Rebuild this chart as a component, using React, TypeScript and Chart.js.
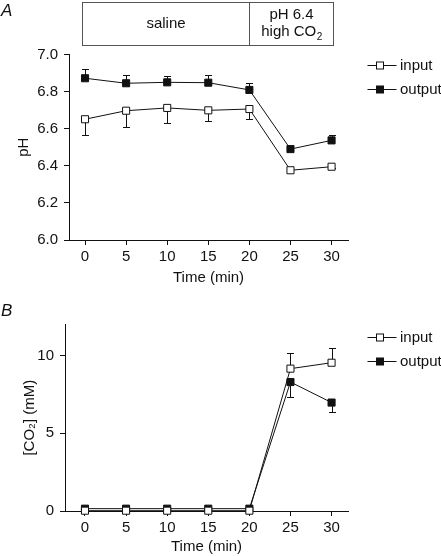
import React, { useEffect, useRef } from "react";
import { Chart, registerables } from "chart.js";

Chart.register(...registerables);

// ---------- data ----------
const timeMin = [0, 5, 10, 15, 20, 25, 30];
const xTickValues = [0, 5, 10, 15, 20, 25, 30];

// Panel A (pH)
const phInput = [6.651, 6.697, 6.712, 6.699, 6.706, 6.376, 6.395];
const phInputErrLow = [6.564, 6.611, 6.631, 6.641, 6.652, null, 6.386];
const phOutput = [6.872, 6.845, 6.85, 6.848, 6.809, 6.49, 6.537];
const phOutputErrHigh = [6.92, 6.89, 6.884, 6.89, 6.845, null, 6.566];
const phYTicks = [6.0, 6.2, 6.4, 6.6, 6.8, 7.0];

// Panel B ([CO2] mM)
const co2Input = [0.02, 0.02, 0.02, 0.02, 0.02, 9.15, 9.53];
const co2InputErrHigh = [null, null, null, null, null, 10.15, 10.49];
const co2Output = [0.15, 0.15, 0.15, 0.15, 0.15, 8.29, 6.97];
const co2OutputErrLow = [null, null, null, null, null, 7.33, 6.39];
const co2YTicks = [0, 5, 10];

const seriesNames = ["input", "output"];

// ---------- styling ----------
const FONT = "'Liberation Sans', Arial, Helvetica, sans-serif";
const INK = "#111111";
const BOX = "#555555";

const toPts = (ys: number[]) => timeMin.map((t, i) => ({ x: t, y: ys[i] }));

const errorBarsPlugin = {
  id: "errorBars",
  beforeDatasetsDraw(chart: any, _args: any, opts: any) {
    const ends: (number | null)[][] = opts.ends || [];
    const ctx = chart.ctx;
    const yScale = chart.scales.y;
    ctx.save();
    ctx.strokeStyle = INK;
    ctx.lineWidth = 1;
    ends.forEach((arr, di) => {
      const meta = chart.getDatasetMeta(di);
      arr.forEach((v, j) => {
        if (v === null || v === undefined) return;
        const el = meta.data[j];
        if (!el) return;
        const x = Math.round(el.x) + 0.5;
        const yEnd = Math.round(yScale.getPixelForValue(v)) + 0.5;
        ctx.beginPath();
        ctx.moveTo(x, el.y);
        ctx.lineTo(x, yEnd);
        ctx.moveTo(x - 3.5, yEnd);
        ctx.lineTo(x + 3.5, yEnd);
        ctx.stroke();
      });
    });
    ctx.restore();
  },
};

function drawSub(ctx: CanvasRenderingContext2D, main: string, sub: string, cx: number, cy: number, size: number) {
  ctx.font = `${size}px ${FONT}`;
  const w1 = ctx.measureText(main).width;
  ctx.font = `${Math.round(size * 0.68)}px ${FONT}`;
  const w2 = ctx.measureText(sub).width;
  const start = cx - (w1 + w2) / 2;
  ctx.textAlign = "left";
  ctx.textBaseline = "middle";
  ctx.font = `${size}px ${FONT}`;
  ctx.fillText(main, start, cy);
  ctx.font = `${Math.round(size * 0.68)}px ${FONT}`;
  ctx.fillText(sub, start + w1 + 0.5, cy + size * 0.33);
}

const decorPlugin = {
  id: "decor",
  afterDraw(chart: any, _args: any, opts: any) {
    const ctx: CanvasRenderingContext2D = chart.ctx;
    const area = chart.chartArea;
    const xs = chart.scales.x;
    ctx.save();
    // panel letter
    ctx.fillStyle = INK;
    ctx.font = `italic 17px ${FONT}`;
    ctx.textAlign = "left";
    ctx.textBaseline = "alphabetic";
    ctx.fillText(opts.letter, 1, opts.letterBaseline);

    // legend
    const lx0 = area.right + 19.5;
    const lx1 = area.right + 48.5;
    const mx = area.right + 32;
    opts.legendRows.forEach((ry: number, i: number) => {
      const y = Math.round(ry) + 0.5;
      ctx.strokeStyle = INK;
      ctx.lineWidth = 1;
      ctx.beginPath();
      ctx.moveTo(lx0, y);
      ctx.lineTo(lx1, y);
      ctx.stroke();
      ctx.fillStyle = i === 0 ? "#ffffff" : INK;
      ctx.fillRect(mx - 3.5, y - 3.5, 7, 7);
      ctx.strokeRect(mx - 3.5, y - 3.5, 7, 7);
      ctx.fillStyle = INK;
      ctx.font = `15px ${FONT}`;
      ctx.textBaseline = "middle";
      ctx.fillText(seriesNames[i], area.right + 52, y);
    });

    // condition box
    if (opts.box) {
      const left = Math.round(xs.getPixelForValue(0)) - 2.5;
      const right = Math.round(xs.getPixelForValue(30)) + 1.5;
      const mid = Math.round(xs.getPixelForValue(20)) + 0.5;
      const top = 2.5;
      const bottom = 45.5;
      ctx.strokeStyle = BOX;
      ctx.lineWidth = 1;
      ctx.strokeRect(left, top, right - left, bottom - top);
      ctx.beginPath();
      ctx.moveTo(mid, top);
      ctx.lineTo(mid, bottom);
      ctx.stroke();
      ctx.fillStyle = INK;
      ctx.font = `15px ${FONT}`;
      ctx.textAlign = "center";
      ctx.textBaseline = "middle";
      ctx.fillText("saline", (left + mid) / 2, 24);
      ctx.fillText("pH 6.4", (mid + right) / 2, 15);
      drawSub(ctx, "high CO", "2", (mid + right) / 2, 32, 15);
    }
    ctx.restore();
  },
};

function makeConfig(p: {
  input: number[];
  output: number[];
  ends: (number | null)[][];
  yMin: number;
  yMax: number;
  yTicks: number[];
  yFmt: (v: number) => string;
  yTitle: string;
  yTitlePad: number;
  xMin: number;
  yWidth: number;
  xHeight: number;
  padTop: number;
  titleBottomPad: number;
  letter: string;
  letterBaseline: number;
  legendRows: number[];
  box: boolean;
}): any {
  const lineDs = (label: string, data: number[], filled: boolean) => ({
    label,
    data: toPts(data),
    borderColor: INK,
    borderWidth: 1,
    pointStyle: "rect",
    pointRadius: 5,
    pointBorderWidth: 1,
    pointBorderColor: INK,
    pointBackgroundColor: filled ? INK : "#ffffff",
    tension: 0,
    fill: false,
    clip: false,
  });
  const axisCommon = {
    grid: { display: true, drawOnChartArea: false, drawTicks: true, tickLength: 5, color: INK, lineWidth: 1 },
    border: { display: true, color: INK, width: 1 },
  };
  return {
    type: "line",
    data: {
      datasets: [lineDs(seriesNames[0], p.input, false), lineDs(seriesNames[1], p.output, true)],
    },
    options: {
      animation: false,
      responsive: false,
      maintainAspectRatio: false,
      events: [],
      layout: { padding: { top: p.padTop, right: 93, left: 0, bottom: 0 } },
      plugins: {
        legend: { display: false },
        tooltip: { enabled: false },
        errorBars: { ends: p.ends },
        decor: { letter: p.letter, letterBaseline: p.letterBaseline, legendRows: p.legendRows, box: p.box },
      },
      scales: {
        x: {
          type: "linear",
          min: p.xMin,
          max: 32,
          afterBuildTicks: (s: any) => {
            s.ticks = xTickValues.map((v) => ({ value: v }));
          },
          afterFit: (s: any) => {
            s.height = p.xHeight;
          },
          ...axisCommon,
          ticks: {
            color: INK,
            font: { family: FONT, size: 15 },
            padding: 3,
            maxRotation: 0,
            autoSkip: false,
            callback: (v: number) => String(v),
          },
          title: {
            display: true,
            text: "Time (min)",
            color: INK,
            font: { family: FONT, size: 15 },
            padding: { top: 0, bottom: p.titleBottomPad },
          },
        },
        y: {
          type: "linear",
          min: p.yMin,
          max: p.yMax,
          afterBuildTicks: (s: any) => {
            s.ticks = p.yTicks.map((v) => ({ value: v }));
          },
          afterFit: (s: any) => {
            s.width = p.yWidth;
          },
          ...axisCommon,
          ticks: {
            color: INK,
            font: { family: FONT, size: 15 },
            padding: 6,
            autoSkip: false,
            callback: (v: number) => p.yFmt(v),
          },
          title: {
            display: true,
            text: p.yTitle,
            color: INK,
            font: { family: FONT, size: 15 },
            padding: { top: p.yTitlePad, bottom: 0 },
          },
        },
      },
    },
    plugins: [errorBarsPlugin, decorPlugin],
  };
}

export default function App() {
  const refA = useRef<HTMLCanvasElement | null>(null);
  const refB = useRef<HTMLCanvasElement | null>(null);

  useEffect(() => {
    const charts: Chart[] = [];
    if (refA.current) {
      charts.push(
        new Chart(
          refA.current,
          makeConfig({
            input: phInput,
            output: phOutput,
            ends: [phInputErrLow, phOutputErrHigh],
            yMin: 6.0,
            yMax: 7.0,
            yTicks: phYTicks,
            yFmt: (v) => v.toFixed(1),
            yTitle: "pH",
            yTitlePad: 15,
            xMin: -1.95,
            yWidth: 69,
            xHeight: 50,
            padTop: 54.5,
            titleBottomPad: 3,
            letter: "A",
            letterBaseline: 16,
            legendRows: [65, 89],
            box: true,
          })
        )
      );
    }
    if (refB.current) {
      charts.push(
        new Chart(
          refB.current,
          makeConfig({
            input: co2Input,
            output: co2Output,
            ends: [co2InputErrHigh, co2OutputErrLow],
            yMin: 0,
            yMax: 12,
            yTicks: co2YTicks,
            yFmt: (v) => String(v),
            yTitle: "[CO₂] (mM)",
            yTitlePad: 21,
            xMin: -2.43,
            yWidth: 65,
            xHeight: 45,
            padTop: 34.3,
            titleBottomPad: 0,
            letter: "B",
            letterBaseline: 26,
            legendRows: [47, 71],
            box: false,
          })
        )
      );
    }
    return () => charts.forEach((c) => c.destroy());
  }, []);

  return (
    <div style={{ position: "absolute", left: 0, top: 0, width: 441, height: 556, background: "#ffffff" }}>
      <canvas
        ref={refA}
        width={441}
        height={290}
        style={{ position: "absolute", left: 0, top: 0, width: 441, height: 290 }}
      />
      <canvas
        ref={refB}
        width={441}
        height={266}
        style={{ position: "absolute", left: 0, top: 290, width: 441, height: 266 }}
      />
    </div>
  );
}
